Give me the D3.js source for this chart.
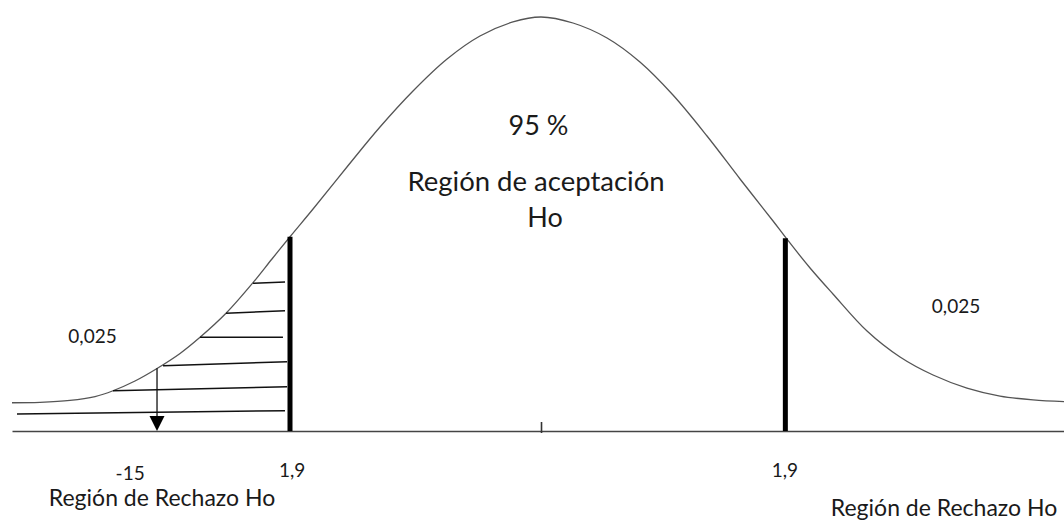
<!DOCTYPE html>
<html>
<head>
<meta charset="utf-8">
<script src="https://cdn.jsdelivr.net/npm/d3@7"></script>
<style>
  body { margin: 0; background: #fff; }
  text { font-family: Lato, "Open Sans", sans-serif; fill: #1a1a1a; }
</style>
</head>
<body>
<div id="Grafico"><svg width="1064" height="522"></svg></div>
<script>
const MARGIN = { TOP: 17, BOTTOM: 91, LEFT: 12, RIGHT: 0 };
var width = 1064 - MARGIN.LEFT - MARGIN.RIGHT;
var height = 522 - MARGIN.TOP - MARGIN.BOTTOM;

// Curva (z, densidad)
var curvaZ = [-4.133, -3.914, -3.68, -3.484, -3.344, -3.172, -3.0, -2.82, -2.664, -2.461,
              -2.25, -2.102, -1.961, -1.781, -1.516, -1.258, -1.0, -0.734, -0.477, -0.219,
              0, 0.25, 0.516, 0.773, 1.031, 1.297, 1.555, 1.813, 1.914, 2.102,
              2.281, 2.547, 2.805, 3.063, 3.328, 3.586, 3.844, 4.086];
var curvaD = [0.0273, 0.0277, 0.0295, 0.0333, 0.0389, 0.0483, 0.0604, 0.0749, 0.0905, 0.1137,
              0.1433, 0.1662, 0.1877, 0.2145, 0.2551, 0.2937, 0.3285, 0.3594, 0.3816, 0.3952,
              0.4, 0.3942, 0.3797, 0.3565, 0.3246, 0.2850, 0.2435, 0.2029, 0.1865, 0.1575,
              0.1324, 0.0966, 0.0715, 0.0541, 0.0415, 0.0338, 0.0300, 0.0283];

// Valores criticos (barras)
var criticoZ = [-1.961, 1.909];
var criticoD = [0.1877, 0.1862];

// Rayado de la region de rechazo izquierda
var rayaZ1 = [-2.25, -2.461, -2.664, -2.953, -3.344, -4.094];
var rayaZ2 = [-2.0, -2.0, -2.016, -1.984, -1.984, -2.0];
var rayaD1 = [0.1427, 0.1137, 0.0905, 0.0631, 0.0389, 0.0164];
var rayaD2 = [0.1440, 0.1162, 0.0905, 0.0670, 0.0428, 0.0196];

// Flecha
var flechaZ = -3.0;
var flechaD = 0.0606;

// Etiquetas bajo el eje
var etiquetasEje = ["-15", "1,9", "1,9"];
var etiquetasZ = [-3.21, -1.945, 1.906];

var svg = d3.select("#Grafico").select("svg")
        .append("g")
        .attr("transform",
            "translate(" + MARGIN.LEFT + "," + MARGIN.TOP + ")");

// Escalas
var x = d3.scaleLinear()
        .domain([-4.133, 4.086])
        .range([0, width]);

var y = d3.scaleLinear()
        .domain([0, 0.4])
        .range([height, 0]);

// Eje con una marca en el centro
var eje = svg.append("g")
    .attr("transform", "translate(0," + height + ")")
    .call(d3.axisBottom(x).tickValues([0]).tickSizeInner(-10).tickSizeOuter(0).tickFormat(""));
eje.select(".domain").attr("stroke", "#444").attr("stroke-width", 1.6);
eje.selectAll(".tick line").attr("stroke", "#333").attr("stroke-width", 1.6)
    .attr("y2", -9).attr("y1", 2);

// Curva normal
var puntos = curvaZ.map(function(z, i) { return [z, curvaD[i]]; });
var linea = d3.line()
    .x(function(d) { return x(d[0]); })
    .y(function(d) { return y(d[1]); })
    .curve(d3.curveCatmullRom.alpha(0.5));

svg.append("path")
    .datum(puntos)
    .attr("d", linea)
    .attr("fill", "none")
    .attr("stroke", "#555")
    .attr("stroke-width", 1.3);

// Rayado
svg.selectAll(".raya")
    .data(rayaZ1)
    .enter()
    .append("line")
    .attr("class", "raya")
    .attr("x1", function(d) { return x(d); })
    .attr("x2", function(d, i) { return x(rayaZ2[i]); })
    .attr("y1", function(d, i) { return y(rayaD1[i]); })
    .attr("y2", function(d, i) { return y(rayaD2[i]); })
    .attr("stroke", "#111")
    .attr("stroke-width", 1.5);

// Barras de los valores criticos
svg.selectAll(".critico")
    .data(criticoZ)
    .enter()
    .append("line")
    .attr("class", "critico")
    .attr("x1", function(d) { return x(d); })
    .attr("x2", function(d) { return x(d); })
    .attr("y1", y(0))
    .attr("y2", function(d, i) { return y(criticoD[i]); })
    .attr("stroke", "#000")
    .attr("stroke-width", 5);

// Flecha hacia el eje
var fx = x(flechaZ);
svg.append("line")
    .attr("x1", fx).attr("x2", fx)
    .attr("y1", y(flechaD)).attr("y2", y(0) - 14)
    .attr("stroke", "#111")
    .attr("stroke-width", 1.3);
svg.append("path")
    .attr("d", "M" + (fx - 7.5) + "," + (y(0) - 15) + "L" + (fx + 7.5) + "," + (y(0) - 15) + "L" + fx + "," + y(0) + "Z")
    .attr("fill", "#000");

// Textos
svg.selectAll(".etq")
    .data(etiquetasEje)
    .enter()
    .append("text")
    .attr("class", "etq")
    .attr("x", function(d, i) { return x(etiquetasZ[i]); })
    .attr("y", function(d, i) { return height + (i == 0 ? 49 : 46); })
    .attr("text-anchor", "middle")
    .style("font-size", "19px")
    .text(function(d) { return d; });

function texto(t, cx, cy, size) {
    svg.append("text")
        .attr("x", cx - MARGIN.LEFT)
        .attr("y", cy - MARGIN.TOP)
        .attr("text-anchor", "middle")
        .style("font-size", size + "px")
        .text(t);
}

texto("95 %", 538.5, 135, 27);
texto("Región de aceptación", 536, 191, 27.5);
texto("Ho", 545, 227, 27);
texto("0,025", 92.5, 343, 19);
texto("0,025", 956, 313, 19);
texto("Región de Rechazo Ho", 162, 506, 23);
texto("Región de Rechazo Ho", 944, 516, 23);
</script>
</body>
</html>
